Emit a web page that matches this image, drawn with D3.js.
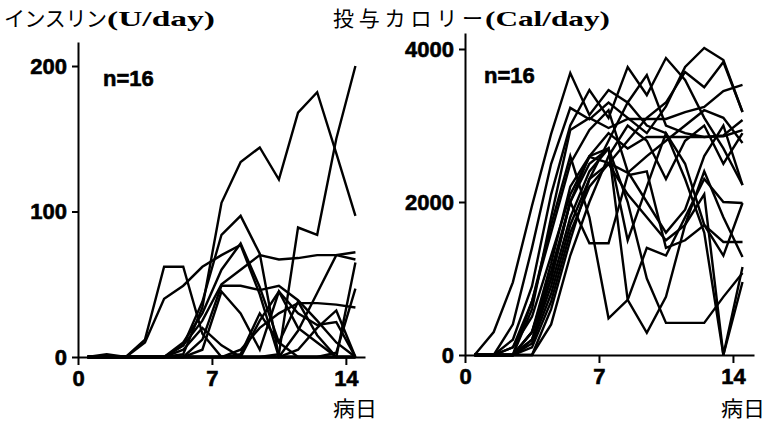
<!DOCTYPE html>
<html>
<head>
<meta charset="utf-8">
<script src="https://cdn.jsdelivr.net/npm/d3@7"></script>
<style>
body { margin: 0; background: #fff; }
.jp { font-family: "Noto Sans CJK JP", sans-serif; fill: #000; }
.unit { font-family: "Liberation Serif", "DejaVu Serif", serif; font-weight: bold; fill: #000; }
.n { font-family: "Liberation Sans", Arial, sans-serif; font-weight: bold; font-size: 22px; stroke: #000; stroke-width: 0.6px; }
</style>
</head>
<body>
<svg id="chart" width="767" height="422"></svg>
<script>
// day positions (plotted at mid-day)
const days = [0.5, 1.5, 2.5, 3.5, 4.5, 5.5, 6.5, 7.5, 8.5, 9.5, 10.5, 11.5, 12.5, 13.5, 14.5];
const xTicks = [0, 7, 14];
const insulinTicks = [0, 100, 200];
const calorieTicks = [0, 2000, 4000];

// insulin (U/day), 16 patients
const insulin = [
  [0, 0, 0, 0, 0, 2, 34, 106, 134, 144, 122, 168, 182, 140, 97],
  [0, 0, 0, 0, 0, 0, 0, 0, 0, 0, 2, 89, 84, 150, 200],
  [0, 0, 0, 12, 62, 62, 16, 0, 0, 0, 0, 0, 0, 0, 0],
  [0, 2, 0, 0, 0, 8, 38, 84, 97, 71, 0, 0, 0, 0, 0],
  [0, 0, 0, 0, 0, 10, 30, 60, 78, 48, 10, 0, 0, 0, 0],
  [0, 0, 0, 0, 0, 8, 25, 50, 60, 70, 67, 68, 70, 70, 67],
  [0, 0, 0, 0, 0, 0, 0, 0, 0, 0, 0, 18, 44, 70, 72],
  [0, 0, 0, 0, 0, 0, 0, 0, 0, 0, 0, 0, 0, 0, 65],
  [0, 0, 0, 0, 0, 0, 0, 0, 0, 0, 0, 0, 0, 3, 47],
  [0, 0, 0, 0, 0, 0, 12, 49, 49, 46, 49, 39, 25, 10, 0],
  [0, 0, 0, 0, 0, 0, 0, 0, 5, 20, 30, 37, 37, 36, 34],
  [0, 0, 0, 0, 0, 0, 5, 45, 30, 5, 45, 20, 10, 0, 0],
  [0, 0, 0, 10, 40, 49, 62, 70, 77, 43, 0, 0, 0, 0, 0],
  [0, 0, 0, 0, 0, 0, 0, 0, 2, 30, 10, 38, 15, 0, 0],
  [0, 0, 0, 0, 0, 0, 0, 0, 0, 0, 0, 5, 20, 32, 0],
  [0, 0, 0, 0, 0, 5, 20, 8, 0, 25, 45, 30, 22, 24, 0]
];

// calories (Cal/day), 16 patients
const calories = [
  [0, 300, 950, 1950, 2890, 3686, 3137, 3464, 3300, 3660, 3000, 2900, 2850, 2860, 2940],
  [0, 0, 200, 900, 2100, 3000, 3464, 3100, 3765, 3398, 3882, 3595, 3100, 2700, 2222],
  [0, 0, 400, 1400, 2500, 3230, 3080, 3300, 3100, 2900, 3250, 3765, 4013, 3856, 3176],
  [0, 0, 0, 600, 1800, 2941, 3098, 2967, 3085, 3085, 3085, 3176, 3242, 3450, 3530],
  [0, 0, 0, 300, 1200, 2200, 2600, 2900, 2700, 2850, 2850, 2850, 2850, 2870, 3072],
  [0, 0, 100, 500, 1300, 2100, 2590, 2510, 2380, 2600, 2800, 3000, 3200, 3100, 2771],
  [0, 0, 0, 700, 1700, 2600, 1800, 480, 720, 1400, 1300, 1800, 2300, 2000, 1987],
  [0, 0, 0, 300, 1000, 2000, 2500, 2700, 720, 290, 760, 1700, 2400, 1800, 1281],
  [0, 0, 0, 200, 900, 1800, 2400, 2700, 2000, 1000, 420, 420, 420, 760, 1072],
  [0, 0, 0, 0, 600, 1500, 2300, 2800, 3300, 3000, 2900, 2300, 1600, 0, 954],
  [0, 0, 0, 100, 700, 1600, 2200, 2500, 2100, 1800, 1500, 1700, 2100, 0, 1150],
  [0, 0, 0, 300, 1100, 2000, 1460, 1460, 2350, 2400, 1400, 1500, 1700, 1477, 1477],
  [0, 0, 0, 0, 400, 1300, 2000, 2600, 3000, 2800, 2300, 2800, 3000, 2500, 2900],
  [0, 0, 0, 200, 1000, 2000, 2600, 2700, 1500, 2200, 2900, 2500, 1700, 1300, 1987],
  [0, 0, 100, 700, 1600, 2500, 2941, 3200, 2400, 2000, 1600, 1900, 2600, 3000, 2222],
  [0, 0, 0, 150, 800, 1700, 2300, 2500, 2800, 3100, 3300, 3700, 3500, 3830, 3176]
];

const svg = d3.select("#chart");

function styleAxis(g) {
  g.selectAll("path, line").attr("stroke", "#000").attr("stroke-width", 2);
  g.selectAll("text")
    .style("font-family", "'Liberation Sans', Arial, sans-serif")
    .style("font-weight", "bold")
    .style("font-size", "22px")
    .attr("fill", "#000")
    .attr("stroke", "#000")
    .attr("stroke-width", 0.6);
}

function panel(opt) {
  const x = d3.scaleLinear().domain(opt.xDomain).range(opt.xRange);
  const y = d3.scaleLinear().domain(opt.yDomain).range(opt.yRange);

  const line = d3.line()
    .x(function(d, i) { return x(days[i]); })
    .y(function(d) { return y(d); });

  svg.append("g").selectAll("path")
    .data(opt.data)
    .enter().append("path")
    .attr("d", line)
    .attr("fill", "none")
    .attr("stroke", "#000")
    .attr("stroke-width", 2.4)
    .attr("stroke-linejoin", "miter");

  svg.append("g")
    .attr("transform", "translate(0," + opt.yRange[0] + ")")
    .call(d3.axisBottom(x).tickValues(xTicks).tickSize(8).tickSizeOuter(0).tickPadding(5))
    .call(styleAxis);

  svg.append("g")
    .attr("transform", "translate(" + opt.xRange[0] + ",0)")
    .call(d3.axisLeft(y).tickValues(opt.yTicks).tickFormat(d3.format("d"))
      .tickSize(6).tickSizeOuter(0).tickPadding(5))
    .call(styleAxis);

  svg.append("text").attr("class", "n")
    .attr("x", opt.nPos[0]).attr("y", opt.nPos[1])
    .text("n=16");

  svg.append("text").attr("class", "jp")
    .attr("x", opt.dayLabel[0]).attr("y", opt.dayLabel[1])
    .attr("font-size", 21)
    .attr("textLength", 44).attr("lengthAdjust", "spacingAndGlyphs")
    .text("病日");

  svg.append("text").attr("class", "jp")
    .attr("x", opt.title[0]).attr("y", 26)
    .attr("font-size", 21)
    .attr("textLength", opt.title[1]).attr("lengthAdjust", "spacing")
    .text(opt.titleJp);

  svg.append("text").attr("class", "unit")
    .attr("x", opt.unit[0]).attr("y", 26)
    .attr("font-size", 22)
    .attr("textLength", opt.unit[1]).attr("lengthAdjust", "spacingAndGlyphs")
    .text(opt.unitText);
}

panel({
  data: insulin,
  xDomain: [0, 15], xRange: [78, 365],
  yDomain: [0, 216.5], yRange: [357, 42],
  yTicks: insulinTicks,
  nPos: [103, 86],
  dayLabel: [333, 416],
  titleJp: "インスリン", title: [4, 103],
  unitText: "(U/day)", unit: [107, 108]
});

panel({
  data: calories,
  xDomain: [0, 15.1], xRange: [465, 754],
  yDomain: [0, 4209], yRange: [355, 33],
  yTicks: calorieTicks,
  nPos: [484, 83],
  dayLabel: [721, 416],
  titleJp: "投与カロリー", title: [333, 150],
  unitText: "(Cal/day)", unit: [485, 125]
});
</script>
</body>
</html>
